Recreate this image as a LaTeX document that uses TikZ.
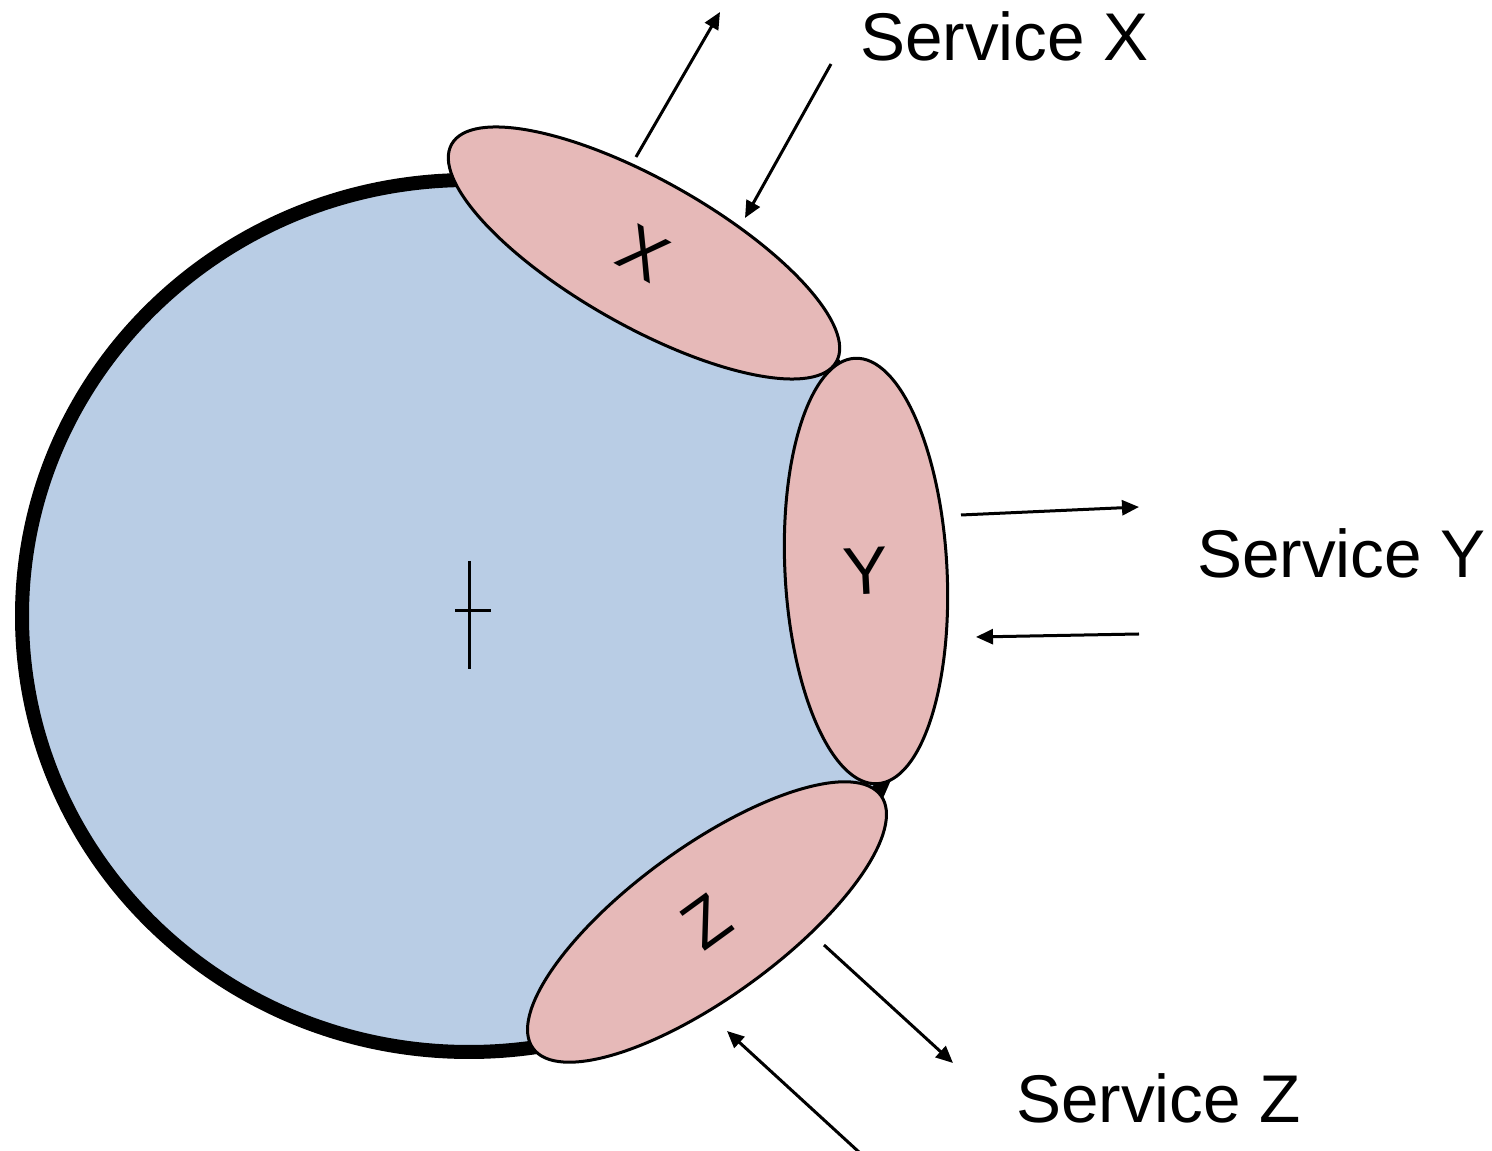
\documentclass[tikz,border=0pt]{standalone}
\usepackage{fontspec}
\setmainfont{Liberation Sans}
\usetikzlibrary{arrows.meta,shapes.geometric}
\definecolor{bodyblue}{HTML}{B9CDE5}
\definecolor{portpink}{HTML}{E6B9B8}
\begin{document}
\begin{tikzpicture}[x=1pt,y=1pt,
  big/.style={font=\fontsize{67.5}{80}\selectfont},
  body/.style={ellipse, draw=black, fill=bodyblue, line width=14pt,
    inner sep=0pt, outer sep=0pt, minimum width=894pt, minimum height=872pt},
  port/.style={ellipse, draw=black, fill=portpink, line width=3pt,
    inner sep=0pt, outer sep=0pt, big},
  flow/.style={line width=3pt, -{Triangle[length=17pt,width=15pt]}},
  label/.style={anchor=base west, inner sep=0pt, big}]
\clip (0,0) rectangle (1492,1151);

% the component body
\node[body] (body) at (469,535) {};
\draw[line width=3pt] (469,590) -- (469,482);
\draw[line width=3pt] (455,540) -- (491,540);

% the three ports
\node[port, minimum width=442pt, minimum height=146pt, rotate=-29.5] (portX) at (644,898) {X};
\node[port, minimum width=162pt, minimum height=426pt, rotate=3] (portY) at (866,580) {Y};
\node[port, minimum width=430pt, minimum height=150pt, rotate=36] (portZ) at (707,229) {Z};

% arrow end points
\coordinate (xout0) at (636,994);  \coordinate (xout1) at (720,1139);
\coordinate (xin0)  at (831,1087); \coordinate (xin1)  at (745,933);
\coordinate (yout0) at (961,636);  \coordinate (yout1) at (1139,644);
\coordinate (yin0)  at (1139,517); \coordinate (yin1)  at (976,514);
\coordinate (zout0) at (824,206);  \coordinate (zout1) at (953,88);
\coordinate (zin0)  at (860,-2);   \coordinate (zin1)  at (727,120);

\draw[flow] (xout0) -- (xout1);
\draw[flow] (xin0) -- (xin1);
\draw[flow] (yout0) -- (yout1);
\draw[flow] (yin0) -- (yin1);
\draw[flow] (zout0) -- (zout1);
\draw[flow] (zin0) -- (zin1);

% service labels
\node[label] (svcX) at (860,1090) {Service X};
\node[label] (svcY) at (1197,573) {Service Y};
\node[label] (svcZ) at (1016,28) {Service Z};
\end{tikzpicture}
\end{document}
